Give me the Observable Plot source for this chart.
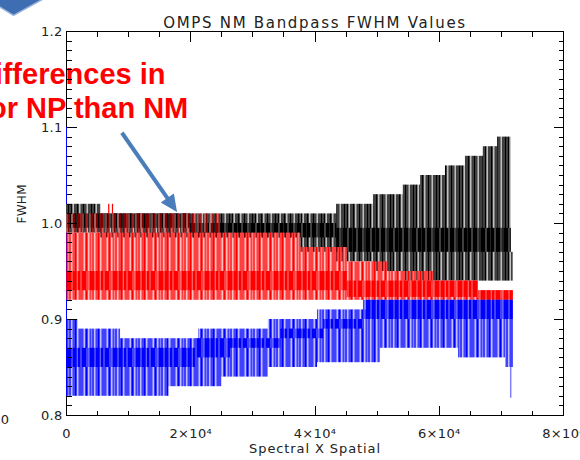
<!DOCTYPE html>
<html><head><meta charset="utf-8">
<script src="https://cdn.jsdelivr.net/npm/d3@7"></script>
<script src="https://cdn.jsdelivr.net/npm/@observablehq/plot@0.6"></script>
<style>
html,body{margin:0;padding:0;background:#fff;overflow:hidden}
</style></head><body><div id="chart"></div>
<script>
// ---- axis ticks ----
const majorX = [0, 20000, 40000, 60000, 80000];
const minorX = [5000, 10000, 15000, 25000, 30000, 35000, 45000, 50000, 55000, 65000, 70000, 75000];
const majorY = [0.8, 0.9, 1.0, 1.1, 1.2];
const minorY = [0.81,0.82,0.83,0.84,0.85,0.86,0.87,0.88,0.89,0.91,0.92,0.93,0.94,0.95,0.96,0.97,0.98,0.99,
                1.01,1.02,1.03,1.04,1.05,1.06,1.07,1.08,1.09,1.11,1.12,1.13,1.14,1.15,1.16,1.17,1.18,1.19];

// ---- black series (envelope of spikes, and dense core) ----
const blackX      = [0, 5500, 37700, 43500, 49400, 54200, 57000, 61000, 64200, 67100, 69400, 71600, 71900];
const blackTop    = [1.02, 1.01, 1.01, 1.02, 1.03, 1.04, 1.05, 1.06, 1.07, 1.08, 1.09, 0.97];
const blackBottom = [0.99, 0.985, 0.97, 0.96, 0.95, 0.94, 0.94, 0.94, 0.94, 0.94, 0.94, 0.94];
const blackCoreX      = [0, 20000, 43500, 71600];
const blackCoreTop    = [1.01, 1.0, 0.995];
const blackCoreBottom = [0.995, 0.985, 0.97];

// ---- red series ----
const redSparseX      = [0, 24800];
const redSparseTop    = [1.01];
const redSparseBottom = [0.99];
const redX      = [0, 24800, 37700, 45200, 51700, 59100, 66300, 71900];
const redTop    = [0.99, 0.99, 0.975, 0.96, 0.95, 0.94, 0.93];
const redBottom = [0.92, 0.92, 0.92, 0.92, 0.92, 0.92, 0.92];
const redCoreX      = [0, 45200, 66300, 71900];
const redCoreTop    = [0.95, 0.94, 0.93];
const redCoreBottom = [0.93, 0.923, 0.92];
const redSpikeX   = [6800, 7400];
const redSpikeTop = [1.02, 1.02];

// ---- blue series ----
const blueX      = [0, 1900, 8700, 16500, 21250, 25000, 32500, 40400, 48450, 50500, 63100, 70700, 71900];
const blueTop    = [0.90, 0.89, 0.88, 0.88, 0.89, 0.89, 0.90, 0.91, 0.92, 0.92, 0.92, 0.92];
const blueBottom = [0.82, 0.82, 0.82, 0.83, 0.83, 0.84, 0.85, 0.855, 0.855, 0.87, 0.86, 0.85];
const blueCoreX      = [0, 21000, 26400, 34500, 41400, 47800, 71900];
const blueCoreTop    = [0.87, 0.88, 0.88, 0.89, 0.90, 0.92];
const blueCoreBottom = [0.85, 0.86, 0.87, 0.88, 0.89, 0.90];
const blueSpikeX = [71500], blueSpikeTop = [0.85], blueSpikeBottom = [0.818];
const blueEdgeX = [0], blueEdgeTop = [1.10], blueEdgeBottom = [0.82];

// ---- overlay annotations (from the slide) ----
const noteText = ["ifferences in", "or NP than NM"];
const noteX = [15936, 19600];
const noteY = [1.1448, 1.1094];
const arrowX = [9000, 17870];
const arrowY = [1.094, 1.0115];
const shapeX = [-11429, -2736, -8531, -11429];
const shapeY = [1.2375, 1.2375, 1.2167, 1.2282];
const strayText = ["0"], strayX = [-9200], strayY = [0.796];

const title = "OMPS NM Bandpass FWHM Values";
const xTitle = "Spectral X Spatial";
const yTitle = "FWHM";

const segs = (xs, tops, bots) => tops.map((t, i) => ({x1: xs[i], x2: xs[i + 1], y1: bots[i], y2: t}));
const fmtX = d => d === 0 ? "0" : (d / 10000) + "×10⁴";
const font = "DejaVu Sans, Verdana, sans-serif";
const band = (data, id) => Plot.rect(data, {x1: "x1", x2: "x2", y1: "y1", y2: "y2", fill: `url(#${id})`});
const W = 580, H = 460, ML = 66, MR = 17, MT = 31, MB = 45;
const xDom = [0, 80000], yDom = [0.8, 1.2];

const plot = Plot.plot({
  width: W, height: H,
  marginLeft: ML, marginRight: MR, marginTop: MT, marginBottom: MB,
  x: {domain: xDom},
  y: {domain: yDom},
  style: {fontFamily: font, fontSize: "13px", background: "#fff", color: "#222"},
  marks: [
    Plot.frame({stroke: "#000"}),
    // tick labels
    Plot.axisX(majorX, {anchor: "bottom", tickSize: 0, tickPadding: 13, tickFormat: fmtX, label: null}),
    Plot.axisY(majorY, {anchor: "left", tickSize: 0, tickPadding: 4, tickFormat: d3.format(".1f"), label: null}),
    Plot.ruleX(blueEdgeX, {x: d => d, y1: (d, i) => blueEdgeBottom[i], y2: (d, i) => blueEdgeTop[i], stroke: "#0000ff"}),
    // black
    band(segs(blackX, blackTop, blackBottom), "blackOuter"),
    band(segs(blackCoreX, blackCoreTop, blackCoreBottom), "blackCore"),
    // red
    band(segs(redSparseX, redSparseTop, redSparseBottom), "redSparse"),
    band(segs(redX, redTop, redBottom), "redOuter"),
    band(segs(redCoreX, redCoreTop, redCoreBottom), "redCore"),
    Plot.ruleX(redSpikeX, {x: d => d, y1: () => 1.01, y2: (d, i) => redSpikeTop[i], stroke: "#ff0000", strokeWidth: 1.2}),
    // blue
    band(segs(blueX, blueTop, blueBottom), "blueOuter"),
    band(segs(blueCoreX, blueCoreTop, blueCoreBottom), "blueCore"),
    Plot.ruleX(blueSpikeX, {x: d => d, y1: (d, i) => blueSpikeBottom[i], y2: (d, i) => blueSpikeTop[i], stroke: "#8080ff", strokeWidth: 1.5}),
    // titles
    Plot.text([title], {frameAnchor: "top", dy: -14, text: d => d, fontSize: 15, fill: "#222"}),
    Plot.text([xTitle], {frameAnchor: "bottom", dy: 37, text: d => d, fontSize: 13, fill: "#222"}),
    Plot.text([yTitle], {frameAnchor: "left", dx: -44, rotate: -90, text: d => d, fontSize: 12, fill: "#222"}),
    // slide overlays
    Plot.line(shapeX.map((x, i) => ({x, y: shapeY[i]})), {x: "x", y: "y", fill: "#3f6db2", stroke: "#9ab3dc", strokeWidth: 1.5}),
    Plot.text(noteText, {x: (d, i) => noteX[i], y: (d, i) => noteY[i], text: d => d, textAnchor: "end", lineAnchor: "bottom",
      fill: "#ff0000", fontWeight: "bold", fontFamily: "Liberation Sans, Arial, sans-serif", fontSize: 29}),
    Plot.text(strayText, {x: (d, i) => strayX[i], y: (d, i) => strayY[i], text: d => d, textAnchor: "end", fontSize: 13, fill: "#222"})
  ]
});

// stripe patterns imitating the dense vertical spikes
const ns = "http://www.w3.org/2000/svg";
const defs = document.createElementNS(ns, "defs");
function addPattern(id, cols) {
  const p = document.createElementNS(ns, "pattern");
  p.setAttribute("id", id);
  p.setAttribute("patternUnits", "userSpaceOnUse");
  p.setAttribute("x", -0.5);
  p.setAttribute("width", cols.length);
  p.setAttribute("height", 20);
  cols.forEach((c, i) => {
    if (!c) return;
    const r = document.createElementNS(ns, "rect");
    r.setAttribute("x", i); r.setAttribute("y", -5);
    r.setAttribute("width", 1); r.setAttribute("height", 30);
    r.setAttribute("fill", c);
    p.appendChild(r);
  });
  defs.appendChild(p);
}
const K = "#000000", G = "#808080", R = "#ff0000", P = "#ff8080", B = "#0000ff", L = "#8080ff", _ = null;
addPattern("blackOuter", [K, G, K, K, _, G, K, G, K, K, G, _, K, G, K, K, G, K, _, G, K, G, K]);
addPattern("blackCore",  [K, K, K, G, K, K, K, K, _, K, K, K, G, K, K, K, K, K, G, K, _, K, K]);
addPattern("redSparse",  [R, _, _, P, _, R, _, _, _, R, _, R, _, _, P, _, _, R, _, _, _, P, _]);
addPattern("redOuter",   [P, R, P, _, R, P, R, R, P, _, R, P, R, P, R, _, P, R, R, P, _, R, P]);
addPattern("redCore",    [R, R, R, P, R, R, R, R, _, R, R, R, P, R, R, R, R, R, P, R, _, R, R]);
addPattern("blueOuter",  [L, B, L, _, B, L, B, B, L, _, B, L, B, L, B, _, L, B, B, L, _, B, L]);
addPattern("blueCore",   [B, B, B, L, B, B, B, B, _, B, B, B, L, B, B, B, B, B, L, B, _, B, B]);
plot.insertBefore(defs, plot.firstChild);

const sx = plot.scale("x"), sy = plot.scale("y");

// inward ticks on all four sides, placed with the plot's own scales
const X0 = sx.apply(xDom[0]) + 0.5, X1 = sx.apply(xDom[1]) + 0.5;
const Y0 = sy.apply(yDom[0]) + 0.5, Y1 = sy.apply(yDom[1]) + 0.5;
let td = "";
[[majorX, 10], [minorX, 5]].forEach(([vals, n]) => vals.forEach(v => {
  const x = Math.round(sx.apply(v)) + 0.5;
  td += `M${x},${Y0}V${Y0 - n}M${x},${Y1}V${Y1 + n}`;
}));
[[majorY, 10], [minorY, 5]].forEach(([vals, n]) => vals.forEach(v => {
  const y = Math.round(sy.apply(v)) + 0.5;
  td += `M${X0},${y}H${X0 + n}M${X1},${y}H${X1 - n}`;
}));
const ticks = document.createElementNS(ns, "path");
ticks.setAttribute("d", td);
ticks.setAttribute("fill", "none");
ticks.setAttribute("stroke", "#000");
ticks.setAttribute("stroke-width", 1);
ticks.setAttribute("shape-rendering", "crispEdges");

// arrow built with the plot's own scales
const ax1 = sx.apply(arrowX[0]), ay1 = sy.apply(arrowY[0]);
const ax2 = sx.apply(arrowX[1]), ay2 = sy.apply(arrowY[1]);
const len = Math.hypot(ax2 - ax1, ay2 - ay1), ux = (ax2 - ax1) / len, uy = (ay2 - ay1) / len;
const hl = 17, hw = 8;
const bx = ax2 - hl * ux, by = ay2 - hl * uy;
const g = document.createElementNS(ns, "g");
const shaft = document.createElementNS(ns, "line");
shaft.setAttribute("x1", ax1); shaft.setAttribute("y1", ay1);
shaft.setAttribute("x2", bx + 2 * ux); shaft.setAttribute("y2", by + 2 * uy);
shaft.setAttribute("stroke", "#4a7ebb"); shaft.setAttribute("stroke-width", 4);
const head = document.createElementNS(ns, "path");
head.setAttribute("d", `M${ax2},${ay2}L${bx - hw * uy},${by + hw * ux}L${bx + hw * uy},${by - hw * ux}Z`);
head.setAttribute("fill", "#4a7ebb");
g.appendChild(ticks);
g.appendChild(shaft); g.appendChild(head);
plot.appendChild(g);

// letter spacing of the wide IDL stroke font
plot.querySelectorAll("text").forEach(t => {
  const s = t.textContent;
  if (s === title) t.style.letterSpacing = "1.7px";
  else if (s === xTitle) t.style.letterSpacing = "0.9px";
  else if (!noteText.includes(s)) t.style.letterSpacing = "0.3px";
});

document.getElementById("chart").appendChild(plot);
</script></body></html>
